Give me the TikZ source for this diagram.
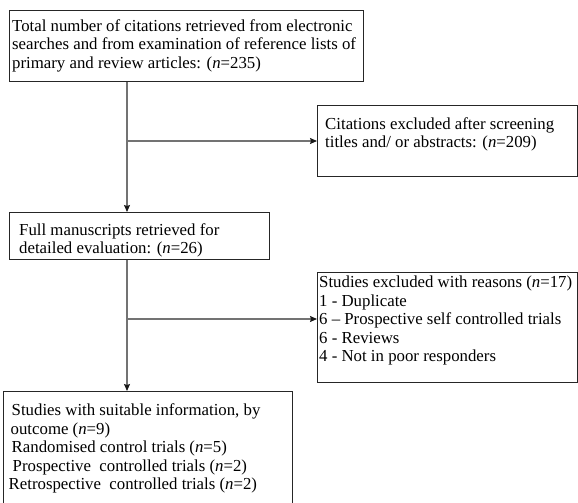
\documentclass[tikz,border=0pt]{standalone}
\usepackage{fontspec}
\setmainfont{Liberation Serif}
\usetikzlibrary{arrows.meta,calc}
\begin{document}
\begin{tikzpicture}[x=1pt,y=-1pt,
  box/.style={draw=black!85,line width=0.9pt,inner sep=0pt,rectangle},
  txt/.style={inner sep=0pt,anchor=north west,align=left,font=\fontsize{16.8}{18.5}\selectfont,text=black},
  conn/.style={draw=black!55,line width=1.2pt},
  arr/.style={conn,-{Stealth[length=7pt,width=6pt,inset=1pt,color=black!90]}}]
\useasboundingbox[fill=white] (0,0) rectangle (578,503);
\node[box,minimum width=354pt,minimum height=71pt,anchor=north west] (b1) at (9,10) {};
\node[txt] (t1) at (12,19) {Total number of citations retrieved from electronic\\searches and from examination of reference lists of\\primary and review articles: (\textit{n}=235)};
\node[box,minimum width=260pt,minimum height=71pt,anchor=north west] (b2) at (317,105) {};
\node[txt] (t2) at (325,117) {Citations excluded after screening\\titles and/ or abstracts: (\textit{n}=209)};
\node[box,minimum width=260pt,minimum height=47pt,anchor=north west] (b3) at (9,212) {};
\node[txt] (t3) at (19,223) {Full manuscripts retrieved for\\detailed evaluation: (\textit{n}=26)};
\node[box,minimum width=260pt,minimum height=110pt,anchor=north west] (b4) at (317,272) {};
\node[txt] (t4) at (319,276) {Studies excluded with reasons (\textit{n}=17)\\1 - Duplicate\\6 -- Prospective self controlled trials\\6 - Reviews\\4 - Not in poor responders};
\node[box,minimum width=289pt,minimum height=130pt,anchor=north west] (b5) at (3,391) {};
\node[txt] (t5) at (11.5,403.5) {Studies with suitable information, by\\\hspace*{-1pt}outcome (\textit{n}=9)\\Randomised control trials (\textit{n}=5)\\\hspace*{1pt}Prospective\ \ controlled trials (\textit{n}=2)\\\hspace*{-3pt}Retrospective\ \ controlled trials (\textit{n}=2)};
\coordinate (j1) at (127,141);
\coordinate (j2) at (127,319);
\draw[arr] (b1.south -| j1) -- (b3.north -| j1);
\draw[arr] (j1) -- (j1 -| b2.west);
\draw[arr] (b3.south -| j2) -- (b5.north -| j2);
\draw[arr] (j2) -- (j2 -| b4.west);
\end{tikzpicture}
\end{document}
